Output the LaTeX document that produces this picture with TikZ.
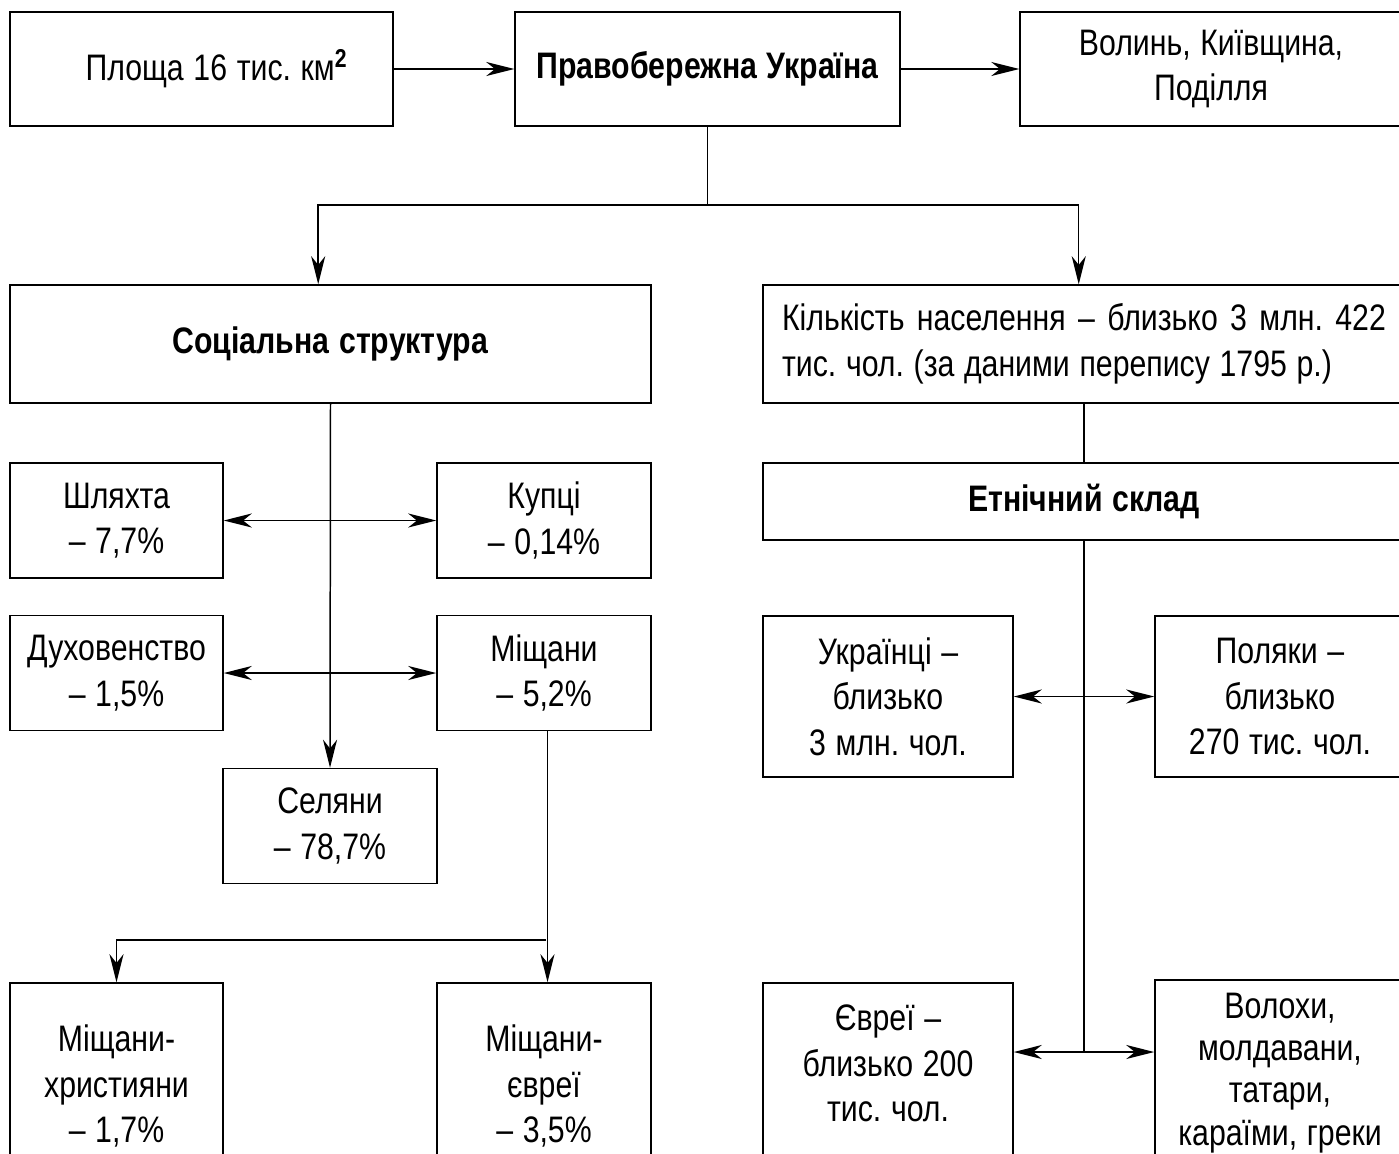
\documentclass[tikz,border=0pt]{standalone}
\usepackage{fontspec}
\setmainfont[FakeStretch=0.82, WordSpace=1.15]{Liberation Sans}
\usetikzlibrary{arrows.meta}

\begin{document}
\frenchspacing
\begin{tikzpicture}[x=0.02cm, y=-0.02cm, line width=0.85pt,
    >={Stealth[length=16pt, width=8pt, inset=5pt]},
    box/.style={draw, inner sep=0pt, align=center,
      font=\fontsize{21}{26}\selectfont}]
        \useasboundingbox (0,0) rectangle (1399,1153);
        \clip (0,0) rectangle (1399,1153);

        % Top row
        \node[box, minimum width=7.66cm, minimum height=2.28cm] (plosh) at (201.5,69) {\hspace*{0.6cm}Площа 16 тис. км\textsuperscript{\textbf{2}}};
        \node[box, minimum width=7.7cm, minimum height=2.28cm] (pravo) at (707.5,69) {\textbf{Правобережна Україна}};
        \node[box, minimum width=7.64cm, minimum height=2.28cm] (volyn) at (1211,69) {Волинь, Київщина,\\Поділля};

        % Second row
        \node[box, minimum width=12.82cm, minimum height=2.36cm] (soc) at (330.5,344) {\textbf{Соціальна структура}};
        \node[box, minimum width=12.84cm, minimum height=2.36cm, align=left] (kilk) at (1084,344)
          {\makebox[12.08cm][s]{Кількість населення – близько 3 млн. 422}\\тис. чол. (за даними перепису 1795 р.)};
        \node[box, minimum width=12.84cm, minimum height=1.54cm] (etn) at (1084,501.5) {\textbf{Етнічний склад}};

        % Social groups
        \node[box, minimum width=4.26cm, minimum height=2.3cm] (shl) at (116.5,520.5) {Шляхта\\– 7,7\%};
        \node[box, minimum width=4.28cm, minimum height=2.3cm] (kup) at (544,520.5) {Купці\\– 0,14\%};
        \node[box, minimum width=4.26cm, minimum height=2.3cm] (dukh) at (116.5,673) {Духовенство\\– 1,5\%};
        \node[box, minimum width=4.28cm, minimum height=2.3cm] (mish) at (544,673) {Міщани\\– 5,2\%};
        \node[box, minimum width=4.28cm, minimum height=2.3cm] (sel) at (330,826) {Селяни\\– 78,7\%};
        \node[box, minimum width=4.26cm, minimum height=4.12cm] (mkh) at (116.5,1086) {Міщани-\\християни\\– 1,7\%};
        \node[box, minimum width=4.28cm, minimum height=4.12cm] (mev) at (544,1086) {Міщани-\\євреї\\– 3,5\%};

        % Ethnic groups
        \node[box, minimum width=5cm, minimum height=3.22cm] (ukr) at (888,696.5) {Українці –\\близько\\3 млн. чол.};
        \node[box, minimum width=5cm, minimum height=3.22cm] (pol) at (1280,696.5) {Поляки –\\близько\\270 тис. чол.};
        \node[box, minimum width=5cm, minimum height=4.12cm] (yev) at (888,1086) {Євреї –\\близько 200\\тис. чол.\\\mbox{}};
        \node[box, minimum width=5cm, minimum height=3.72cm, font=\fontsize{21}{24}\selectfont] (vol) at (1280,1073) {Волохи,\\молдавани,\\татари,\\караїми, греки};

        % Connectors
        \draw[->] (plosh) -- (pravo);
        \draw[->] (pravo) -- (volyn);
        \coordinate (fork) at (707.5,205);
        \draw (pravo.south) -- (fork);
        \draw[->] (fork) -| ([xshift=-7]soc.north);
        \draw[->] (fork) -| ([xshift=-3]kilk.north);
        \draw (kilk.south) -- (etn.north);

        \draw[->] (soc.south) -- (sel.north);
        \draw[<->] (shl.east) -- (kup.west);
        \draw[<->] (dukh.east) -- (mish.west);
        \coordinate (mfork) at (546,940);
        \draw[->] ([xshift=2]mish.south) -- ([xshift=2]mev.north);
        \draw[->] (mfork) -| (mkh.north);

        \coordinate (ebot) at (1084,1052);
        \draw (etn.south) -- (ebot);
        \draw[<->] (ukr.east) -- (pol.west);
        \draw[<->] (yev.east |- ebot) -- (vol.west |- ebot);
\end{tikzpicture}
\end{document}
